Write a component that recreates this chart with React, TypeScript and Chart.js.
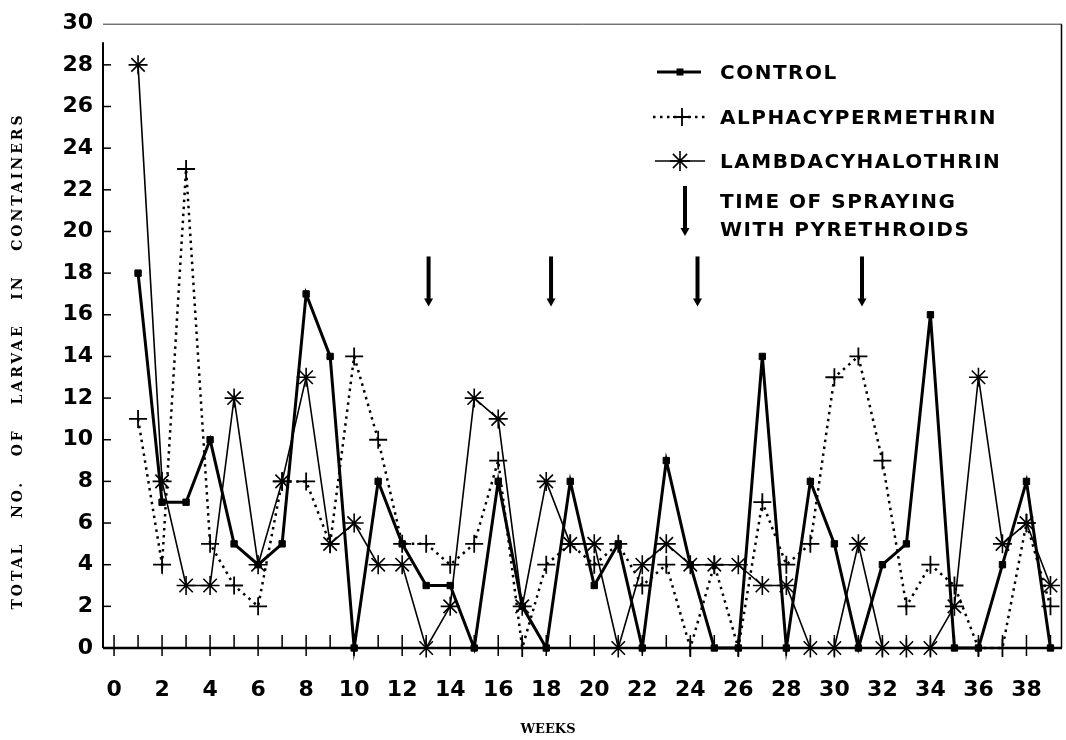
import React, { useEffect, useRef } from "react";
import { Chart, registerables } from "chart.js";

Chart.register(...registerables);

// ---- data ----
const weeks = [1, 2, 3, 4, 5, 6, 7, 8, 9, 10, 11, 12, 13, 14, 15, 16, 17, 18, 19, 20, 21, 22, 23, 24, 25, 26, 27, 28, 29, 30, 31, 32, 33, 34, 35, 36, 37, 38, 39];
const control = [18, 7, 7, 10, 5, 4, 5, 17, 14, 0, 8, 5, 3, 3, 0, 8, 2, 0, 8, 3, 5, 0, 9, 4, 0, 0, 14, 0, 8, 5, 0, 4, 5, 16, 0, 0, 4, 8, 0];
const alphacypermethrin = [11, 4, 23, 5, 3, 2, 8, 8, 5, 14, 10, 5, 5, 4, 5, 9, 0, 4, 5, 4, 5, 3, 4, 0, 4, 0, 7, 4, 5, 13, 14, 9, 2, 4, 3, 0, 0, 6, 2];
const lambdacyhalothrin = [28, 8, 3, 3, 12, 4, 8, 13, 5, 6, 4, 4, 0, 2, 12, 11, 2, 8, 5, 5, 0, 4, 5, 4, 4, 4, 3, 3, 0, 0, 5, 0, 0, 0, 2, 13, 5, 6, 3];
const sprayWeeks = [13.1, 18.2, 24.3, 31.15];
const legendLabels = ["CONTROL", "ALPHACYPERMETHRIN", "LAMBDACYHALOTHRIN", "TIME OF SPRAYING", "WITH PYRETHROIDS"];
const yTitle = "TOTAL   NO.   OF   LARVAE   IN   CONTAINERS";
const xTitle = "WEEKS";

const toPoints = (vals: number[]) => vals.map((v, i) => ({ x: weeks[i], y: v }));

function drawArrow(ctx: CanvasRenderingContext2D, x: number, y1: number, y2: number) {
  ctx.save();
  ctx.strokeStyle = "#000";
  ctx.fillStyle = "#000";
  ctx.lineWidth = 4;
  ctx.beginPath();
  ctx.moveTo(x, y1);
  ctx.lineTo(x, y2 - 6);
  ctx.stroke();
  ctx.beginPath();
  ctx.moveTo(x - 4.5, y2 - 8);
  ctx.lineTo(x + 4.5, y2 - 8);
  ctx.lineTo(x, y2);
  ctx.closePath();
  ctx.fill();
  ctx.restore();
}

const decorPlugin = {
  id: "decor",
  beforeDatasetsDraw(chart: any) {
    const { ctx, chartArea } = chart;
    const xs = chart.scales.x;
    const ys = chart.scales.y;
    const { left, right, top, bottom } = chartArea;
    ctx.save();
    ctx.lineWidth = 1;
    ctx.strokeStyle = "#333";
    ctx.beginPath();
    ctx.moveTo(left, top + 1);
    ctx.lineTo(right, top + 1);
    ctx.stroke();
    ctx.lineWidth = 1.5;
    ctx.strokeStyle = "#000";
    ctx.beginPath();
    ctx.moveTo(right - 0.5, top + 1);
    ctx.lineTo(right - 0.5, bottom);
    ctx.stroke();
    ctx.lineWidth = 2;
    ctx.beginPath();
    ctx.moveTo(left, bottom);
    ctx.lineTo(left, top + 19);
    ctx.stroke();
    ctx.lineWidth = 2.5;
    ctx.beginPath();
    ctx.moveTo(left, bottom);
    ctx.lineTo(right, bottom);
    ctx.stroke();
    ctx.lineWidth = 1.5;
    for (let w = 0; w <= 39; w++) {
      const px = xs.getPixelForValue(w);
      ctx.beginPath();
      ctx.moveTo(px, bottom - 13);
      ctx.lineTo(px, w % 2 === 0 ? bottom + 8 : bottom);
      ctx.stroke();
    }
    for (let v = 2; v <= 28; v += 2) {
      const py = ys.getPixelForValue(v);
      ctx.beginPath();
      ctx.moveTo(left, py);
      ctx.lineTo(left + 8, py);
      ctx.stroke();
    }
    ctx.restore();
  },
  afterDatasetsDraw(chart: any) {
    const { ctx } = chart;
    const xs = chart.scales.x;
    const ys = chart.scales.y;
    sprayWeeks.forEach((w) => {
      drawArrow(ctx, xs.getPixelForValue(w), ys.getPixelForValue(18.8), ys.getPixelForValue(16.4));
    });

    ctx.save();
    ctx.strokeStyle = "#000";
    ctx.fillStyle = "#000";
    ctx.lineWidth = 3;
    ctx.beginPath();
    ctx.moveTo(657, 72);
    ctx.lineTo(701, 72);
    ctx.stroke();
    ctx.fillRect(676.5, 68.5, 7, 7);

    ctx.lineWidth = 2.5;
    ctx.setLineDash([2.5, 4.5]);
    ctx.beginPath();
    ctx.moveTo(653, 117);
    ctx.lineTo(706, 117);
    ctx.stroke();
    ctx.setLineDash([]);
    ctx.lineWidth = 1.8;
    ctx.beginPath();
    ctx.moveTo(673, 117);
    ctx.lineTo(691, 117);
    ctx.moveTo(682, 108);
    ctx.lineTo(682, 126);
    ctx.stroke();

    ctx.lineWidth = 1.6;
    ctx.beginPath();
    ctx.moveTo(655, 161);
    ctx.lineTo(705, 161);
    ctx.stroke();
    const cx = 680, cy = 161, r = 10;
    ctx.beginPath();
    for (let k = 0; k < 4; k++) {
      const a = (k * Math.PI) / 4;
      ctx.moveTo(cx - r * Math.cos(a), cy - r * Math.sin(a));
      ctx.lineTo(cx + r * Math.cos(a), cy + r * Math.sin(a));
    }
    ctx.stroke();

    drawArrow(ctx, 685, 186, 236);

    ctx.font = 'bold 20px "DejaVu Sans"';
    (ctx as any).letterSpacing = "1.5px";
    ctx.textAlign = "left";
    ctx.textBaseline = "middle";
    const ly = [74, 119, 163, 203, 231];
    legendLabels.forEach((t, i) => ctx.fillText(t, 720, ly[i]));

    (ctx as any).letterSpacing = "3px";
    ctx.font = 'bold 14px "DejaVu Serif"';
    ctx.translate(18, 361);
    ctx.rotate(-Math.PI / 2);
    ctx.textAlign = "center";
    ctx.fillText(yTitle, 0, 0);
    ctx.setTransform(1, 0, 0, 1, 0, 0);
    (ctx as any).letterSpacing = "0px";
    ctx.font = 'bold 13px "DejaVu Serif"';
    ctx.textAlign = "center";
    ctx.fillText(xTitle, 548, 730);
    ctx.restore();
  },
};

export default function App() {
  const ref = useRef<HTMLCanvasElement | null>(null);
  useEffect(() => {
    if (!ref.current) return;
    const tickFont = { family: "DejaVu Sans", weight: "bold" as const, size: 22 };
    const chart = new Chart(ref.current, {
      type: "line",
      data: {
        datasets: [
          {
            label: "CONTROL",
            data: toPoints(control),
            borderColor: "#000",
            backgroundColor: "#000",
            borderWidth: 3,
            pointStyle: "rect",
            pointRadius: 4.5,
            pointBorderWidth: 1,
            clip: false as any,
          },
          {
            label: "ALPHACYPERMETHRIN",
            data: toPoints(alphacypermethrin),
            borderColor: "#000",
            backgroundColor: "#000",
            borderWidth: 2.5,
            borderDash: [2.5, 4.5],
            pointStyle: "cross",
            pointRadius: 9,
            pointBorderWidth: 1.8,
            clip: false as any,
          },
          {
            label: "LAMBDACYHALOTHRIN",
            data: toPoints(lambdacyhalothrin),
            borderColor: "#000",
            backgroundColor: "#000",
            borderWidth: 1.6,
            pointStyle: "star",
            pointRadius: 9.5,
            pointBorderWidth: 1.6,
            clip: false as any,
          },
        ],
      },
      options: {
        animation: false,
        responsive: false,
        devicePixelRatio: 1,
        events: [],
        layout: { autoPadding: false, padding: { top: 18, right: 4, left: 0, bottom: 0 } },
        plugins: { legend: { display: false }, tooltip: { enabled: false } },
        scales: {
          x: {
            type: "linear",
            min: -0.46,
            max: 39.48,
            grid: { display: false, drawTicks: false },
            border: { display: false },
            ticks: {
              stepSize: 1,
              includeBounds: false,
              autoSkip: false,
              maxRotation: 0,
              padding: 29,
              color: "#000",
              font: tickFont,
              callback: (v: any) => (Number(v) % 2 === 0 && Number(v) <= 38 ? String(v) : ""),
            },
            afterFit: (s: any) => {
              s.height = 92;
              s.paddingLeft = 0;
              s.paddingRight = 0;
            },
          },
          y: {
            type: "linear",
            min: 0,
            max: 30,
            grid: { display: false, drawTicks: false },
            border: { display: false },
            ticks: { stepSize: 2, padding: 10, color: "#000", font: tickFont },
            afterFit: (s: any) => {
              s.width = 103;
            },
          },
        },
      },
      plugins: [decorPlugin],
    });
    return () => chart.destroy();
  }, []);
  return (
    <div style={{ position: "absolute", left: 0, top: 0, width: 1066, height: 740, background: "#fff" }}>
      <canvas ref={ref} width={1066} height={740} style={{ display: "block" }} />
    </div>
  );
}
